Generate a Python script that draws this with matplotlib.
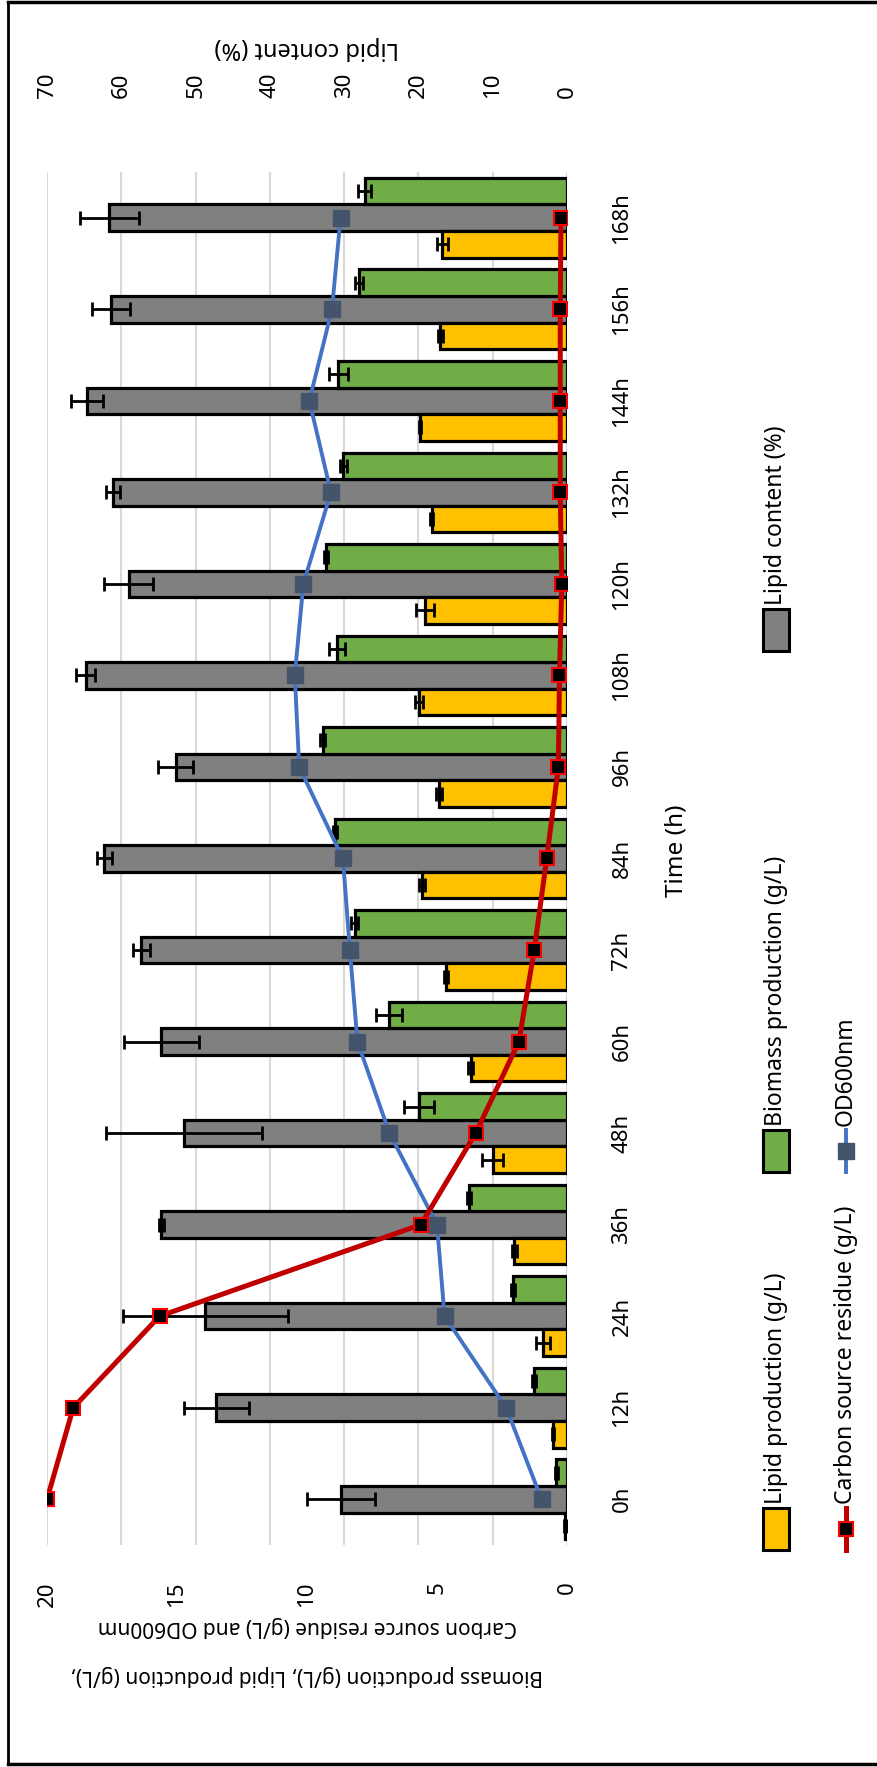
import numpy as np
import matplotlib.pyplot as plt
from matplotlib.patches import Rectangle
from matplotlib.lines import Line2D

plt.rcParams['font.family'] = ['Noto Sans', 'DejaVu Sans']

times = ['0h', '12h', '24h', '36h', '48h', '60h', '72h', '84h',
         '96h', '108h', '120h', '132h', '144h', '156h', '168h']

lipid_prod = [0.06, 0.55, 0.91, 2.02, 2.86, 3.71, 4.64, 5.57, 4.92, 5.70, 5.46, 5.20, 5.66, 4.88, 4.79]
lipid_prod_err = [0.05, 0.04, 0.27, 0.08, 0.41, 0.10, 0.08, 0.12, 0.10, 0.15, 0.36, 0.05, 0.05, 0.10, 0.20]

biomass = [0.42, 1.27, 2.08, 3.77, 5.70, 6.85, 8.17, 8.91, 9.39, 8.84, 9.26, 8.61, 8.80, 8.00, 7.78]
biomass_err = [0.06, 0.06, 0.08, 0.08, 0.58, 0.51, 0.15, 0.08, 0.10, 0.30, 0.08, 0.13, 0.36, 0.15, 0.24]

lipid_content = [30.4, 47.2, 48.7, 54.6, 51.5, 54.6, 57.3, 62.3, 52.7, 64.8, 59.0, 61.1, 64.6, 61.4, 61.6]
lipid_content_err = [4.6, 4.4, 11.1, 0.3, 10.5, 5.0, 1.1, 1.0, 2.3, 1.3, 3.3, 0.9, 2.2, 2.6, 4.0]

carbon = [20.0, 18.99, 15.67, 5.62, 3.51, 1.85, 1.26, 0.78, 0.33, 0.29, 0.20, 0.26, 0.26, 0.26, 0.23]
od600 = [0.98, 2.34, 4.71, 5.00, 6.83, 8.06, 8.35, 8.62, 10.30, 10.47, 10.14, 9.08, 9.91, 9.04, 8.71]

YELLOW = '#FFC000'
GREEN = '#70AD47'
GREY = '#808080'
RED = '#C00000'
BLUE = '#4472C4'
SLATE = '#44546A'

W, H = 878, 1767
fig = plt.figure(figsize=(W / 100, H / 100), dpi=100)

# plot area in pixels: x 47..567, y 172..1545
ax = fig.add_axes([47 / W, 1 - 1545 / H, 520 / W, 1373 / H])
ax2 = ax.twiny()
ax.set_zorder(2)
ax2.set_zorder(1)
ax.patch.set_visible(False)

y = np.arange(len(times))
bh = 0.29
err_kw = dict(ecolor='black', elinewidth=2, capsize=5, capthick=2)
bar_kw = dict(height=bh, edgecolor='black', linewidth=2.3, error_kw=err_kw)

ax.barh(y - bh, lipid_prod, color=YELLOW, xerr=lipid_prod_err, **bar_kw)
ax.barh(y + bh, biomass, color=GREEN, xerr=biomass_err, **bar_kw)
ax2.barh(y, lipid_content, color=GREY, xerr=lipid_content_err, **bar_kw)

red_kw = dict(color=RED, lw=3.6, marker='s', ms=10, mfc='black', mec='#FF0000', mew=1.5)
blue_kw = dict(color=BLUE, lw=2.8, marker='s', ms=11, mfc=SLATE, mec=SLATE)
ax.plot(carbon, y, zorder=5, **red_kw)
ax.plot(od600, y, zorder=4, **blue_kw)

ax.set_xlim(20, 0)
ax2.set_xlim(70, 0)
ax.set_ylim(-0.5, len(times) - 0.5)

ax2.set_xticks(range(0, 71, 10))
ax2.grid(axis='x', color='#d9d9d9', lw=1.5)
ax2.set_axisbelow(True)

ax.set_xticks([0, 5, 10, 15, 20])
ax.set_xticklabels(['0', '5', '10', '15', '20'], rotation=90, fontsize=16)
ax.tick_params(axis='x', length=0, pad=26)
ax2.set_xticklabels([str(v) for v in range(0, 71, 10)], rotation=90, fontsize=16)
ax2.tick_params(axis='x', length=0, pad=53)

ax.yaxis.tick_right()
ax.set_yticks(y)
ax.set_yticklabels(times, rotation=90, va='center', fontsize=16)
ax.tick_params(axis='y', length=0, pad=32)

for a in (ax, ax2):
    for s in a.spines.values():
        s.set_visible(False)

# overlay in pixel coordinates for titles, legend and frame
ov = fig.add_axes([0, 0, 1, 1], zorder=3)
ov.set_xlim(0, W)
ov.set_ylim(H, 0)
ov.axis('off')

ov.plot([8, 8], [2, 1764], color='black', lw=2)
ov.plot([8, W], [2, 2], color='black', lw=2.5)
ov.plot([8, W], [1764, 1764], color='black', lw=2.5)

ov.text(307, 48, 'Lipid content (%)', rotation=180, ha='center', va='center', fontsize=17)
ov.text(307, 1626, 'Carbon source residue (g/L) and OD600nm', rotation=180,
        ha='center', va='center', fontsize=15)
ov.text(307, 1675, 'Biomass production (g/L), Lipid production (g/L),', rotation=180,
        ha='center', va='center', fontsize=15)
ov.text(677, 851, 'Time (h)', rotation=90, ha='center', va='center', fontsize=17.5)

# legend
row1, row2 = 776, 846
for y0, color, label in [(1550, YELLOW, 'Lipid production (g/L)'),
                         (1172, GREEN, 'Biomass production (g/L)'),
                         (651, GREY, 'Lipid content (%)')]:
    ov.add_patch(Rectangle((row1 - 13, y0 - 42), 26, 42, facecolor=color,
                           edgecolor='black', lw=2.2))
    ov.text(row1, y0 - 46, label, rotation=90, ha='center', va='bottom', fontsize=16.5)

for y0, line_kw, label in [(1550, red_kw, 'Carbon source residue (g/L)'),
                           (1172, blue_kw, 'OD600nm')]:
    plain = {k: v for k, v in line_kw.items() if k != 'marker'}
    ov.add_line(Line2D([row2, row2], [y0, y0 - 42], **plain))
    ov.add_line(Line2D([row2], [y0 - 21], **line_kw))
    ov.text(row2, y0 - 46, label, rotation=90, ha='center', va='bottom', fontsize=16.5)

fig.savefig('out.png', dpi=100)
